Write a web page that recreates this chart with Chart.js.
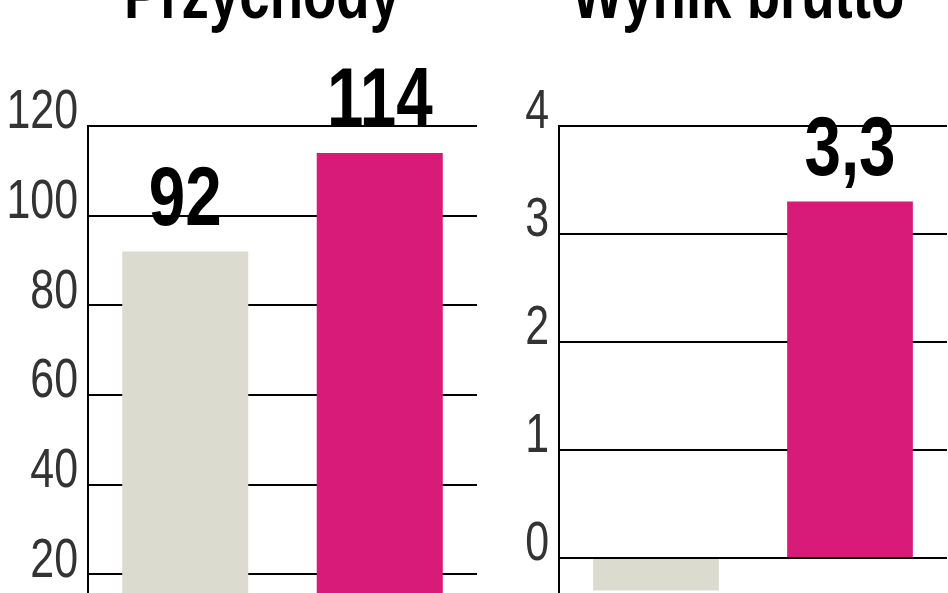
<!DOCTYPE html>
<html>
<head>
<meta charset="utf-8">
<script src="https://cdn.jsdelivr.net/npm/chart.js@4/dist/chart.umd.min.js"></script>
<style>
  html, body { margin: 0; padding: 0; background: #fff; overflow: hidden; width: 948px; height: 593px; }
  .box { position: absolute; }
  #leftBox  { left: 0;     top: -48px; width: 524px; height: 712px; }
  #rightBox { left: 502px; top: -48px; width: 476px; height: 714px; }
</style>
</head>
<body>
<div class="box" id="leftBox"><canvas id="revChart"></canvas></div>
<div class="box" id="rightBox"><canvas id="grossChart"></canvas></div>
<script>
// Data
const periods      = ['rok poprzedni', 'rok bieżący'];
const revenue      = [92, 114];
const grossResult  = [-0.3, 3.3];
const barColors    = ['#dcdbcf', '#d81a78'];

const revTicks   = { min: 0,  max: 120, step: 20 };
const grossTicks = { min: -1, max: 4,   step: 1 };

const FONT = '"Liberation Sans", Arial, sans-serif';
const SQUEEZE = 0.78; // the original uses a narrow typeface

// Squeeze every text the chart writes, so it looks like a condensed font
const condenseText = {
  id: 'condenseText',
  beforeDraw(chart) {
    const ctx = chart.ctx;
    const orig = ctx.fillText;
    ctx._origFillText = orig;
    ctx.fillText = function (t, x, y, maxW) {
      const w = this.measureText(t).width * SQUEEZE;
      orig.call(this, t, x, y, maxW === undefined ? w : Math.min(maxW, w));
    };
  },
  afterDraw(chart) {
    const ctx = chart.ctx;
    if (ctx._origFillText) {
      ctx.fillText = ctx._origFillText;
      delete ctx._origFillText;
    }
  }
};

// Big bold numbers over the bars + panel title
const valueLabels = {
  id: 'valueLabels',
  afterDatasetsDraw(chart, args, opts) {
    const ctx = chart.ctx;
    const meta = chart.getDatasetMeta(0);
    const data = chart.data.datasets[0].data;
    ctx.save();
    ctx.fillStyle = '#000';
    ctx.textAlign = 'center';
    ctx.textBaseline = 'alphabetic';

    ctx.font = 'bold 70px ' + FONT;
    ctx.fillText(opts.title, opts.titleX, 66);

    ctx.font = 'bold 84px ' + FONT;
    meta.data.forEach((bar, i) => {
      const v = data[i];
      const txt = String(v).replace('.', ',');
      if (v >= 0) {
        ctx.textBaseline = 'alphabetic';
        ctx.fillText(txt, bar.x, bar.y - 27);
      } else {
        ctx.textBaseline = 'top';
        ctx.fillText(txt, bar.x, bar.y + 20);
      }
    });
    ctx.restore();
  }
};

function makeChart(id, title, titleX, values, ticks, axisWidth, padRight) {
  const ctx = document.getElementById(id).getContext('2d');
  return new Chart(ctx, {
    type: 'bar',
    data: {
      labels: periods,
      datasets: [{
        data: values,
        backgroundColor: barColors,
        borderWidth: 0,
        categoryPercentage: 1,
        barPercentage: 0.648
      }]
    },
    options: {
      responsive: true,
      maintainAspectRatio: false,
      animation: false,
      devicePixelRatio: 1,
      layout: { padding: { left: 0, right: padRight, top: 174, bottom: 0 } },
      plugins: {
        legend: { display: false },
        tooltip: { enabled: false },
        title: { display: false },
        valueLabels: { title: title, titleX: titleX }
      },
      scales: {
        x: { display: false },
        y: {
          min: ticks.min,
          max: ticks.max,
          ticks: {
            stepSize: ticks.step,
            color: '#333',
            padding: 10,
            labelOffset: -13,
            font: { family: FONT, size: 55, weight: 'normal' }
          },
          grid: { color: '#000', lineWidth: 2, drawTicks: false },
          border: { display: true, color: '#000', width: 2 },
          afterFit(axis) {
            axis.width = axisWidth;
            axis.paddingTop = 0;
            axis.paddingBottom = 0;
          }
        }
      }
    },
    plugins: [condenseText, valueLabels]
  });
}

makeChart('revChart',   'Przychody',    262, revenue,     revTicks,   88, 47);
makeChart('grossChart', 'Wynik brutto', 236, grossResult, grossTicks, 57, 31);
</script>
</body>
</html>
